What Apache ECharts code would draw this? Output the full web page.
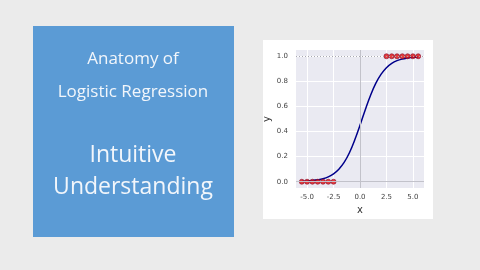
<!DOCTYPE html>
<html><head><meta charset="utf-8">
<script src="https://cdn.jsdelivr.net/npm/echarts@6/dist/echarts.min.js"></script>
<style>html,body{margin:0;padding:0;background:#ebebeb}#c{width:480px;height:270px}</style>
</head><body><div id="c"></div>
<script>
const curveX = [-5.5,-5,-4.5,-4,-3.5,-3,-2.5,-2,-1.5,-1,-0.5,0,0.5,1,1.5,2,2.5,3,3.5,4,4.5,5,5.5];
const curveY = [0.003,0.005,0.009,0.015,0.024,0.039,0.063,0.100,0.154,0.231,0.332,0.450,0.574,0.690,0.786,0.858,0.909,0.943,0.965,0.978,0.986,0.992,0.995];
const class0X = [-5.5,-5,-4.5,-4,-3.5,-3,-2.5];
const class0Y = [0,0,0,0,0,0,0];
const class1X = [2.5,3,3.5,4,4.5,5,5.5];
const class1Y = [1,1,1,1,1,1,1];
const xTicks = [-5,-2.5,0,2.5,5];
const yTicks = [0,0.2,0.4,0.6,0.8,1.0];
const titleLines = ['Anatomy of','Logistic Regression'];
const subtitleLines = ['Intuitive','Understanding'];

const chart = echarts.init(document.getElementById('c'));
const zip = (a,b)=>a.map((v,i)=>[v,b[i]]);
const txtColor = '#f2f6fb';
chart.setOption({
  backgroundColor: '#ebebeb',
  animation: false,
  graphic: [
    {type:'rect', shape:{x:263,y:40,width:170,height:179}, style:{fill:'#ffffff'}, z:-10},
    {type:'rect', shape:{x:33,y:26,width:201,height:211}, style:{fill:'#5b9bd5'}, z:-10},
    {type:'text', x:133, y:59, style:{text:titleLines[0], fill:txtColor, font:'17px "Open Sans"', align:'center', verticalAlign:'middle'}},
    {type:'text', x:133, y:92, style:{text:titleLines[1], fill:txtColor, font:'17px "Open Sans"', align:'center', verticalAlign:'middle'}},
    {type:'text', x:133, y:155, style:{text:subtitleLines[0], fill:txtColor, font:'23px "Open Sans"', align:'center', verticalAlign:'middle'}},
    {type:'text', x:133, y:187, style:{text:subtitleLines[1], fill:txtColor, font:'23px "Open Sans"', align:'center', verticalAlign:'middle'}}
  ],
  grid: {left:296, top:50, width:128, height:138, backgroundColor:'#eaeaf2', show:true, borderWidth:0},
  xAxis: {
    type:'value', min:-6.05, max:6.05,
    name:'x', nameLocation:'middle', nameGap:17,
    nameTextStyle:{color:'#333', fontSize:10, fontFamily:'DejaVu Sans'},
    axisLine:{show:false}, axisTick:{show:false, customValues:xTicks},
    axisLabel:{customValues:xTicks, color:'#444', fontSize:7, fontFamily:'DejaVu Sans', margin:6, formatter:v=>v.toFixed(1)},
    splitLine:{show:true, lineStyle:{color:'#ffffff', width:1}}
  },
  yAxis: {
    type:'value', min:-0.05, max:1.05,
    name:'y', nameLocation:'middle', nameGap:24, nameRotate:90,
    nameTextStyle:{color:'#333', fontSize:10, fontFamily:'DejaVu Sans'},
    axisLine:{show:false}, axisTick:{show:false, customValues:yTicks},
    axisLabel:{customValues:yTicks, color:'#444', fontSize:7, fontFamily:'DejaVu Sans', margin:8, formatter:v=>v.toFixed(1)},
    splitLine:{show:true, lineStyle:{color:'#ffffff', width:1}}
  },
  series: [
    {type:'line', data:[], silent:true,
     markLine:{symbol:'none', silent:true, label:{show:false}, data:[
       {xAxis:0, lineStyle:{color:'#c2c2ca', width:1, type:'solid'}},
       {yAxis:0, lineStyle:{color:'#c2c2ca', width:1, type:'solid'}},
       {yAxis:1, lineStyle:{color:'#a8a8b0', width:1, type:[1,2]}}
     ]}},
    {type:'line', data:zip(curveX,curveY), smooth:0.4, showSymbol:false, lineStyle:{color:'#00008b', width:1.5}, z:3},
    {type:'scatter', data:zip(class0X,class0Y), symbolSize:5, itemStyle:{color:'#e01010', borderColor:'#8b1030', borderWidth:0.8}, z:4},
    {type:'scatter', data:zip(class1X,class1Y), symbolSize:5, itemStyle:{color:'#e01010', borderColor:'#8b1030', borderWidth:0.8}, z:4}
  ]
});
</script></body></html>
